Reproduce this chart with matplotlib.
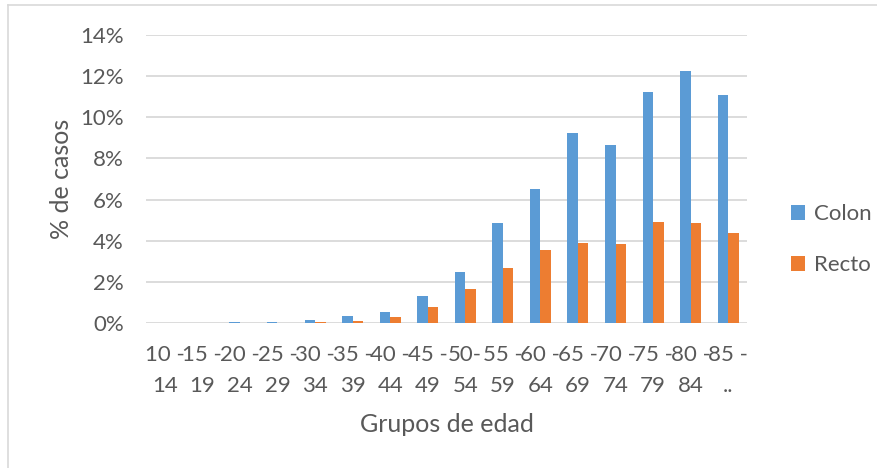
import matplotlib.pyplot as plt
from matplotlib.lines import Line2D
import numpy as np

grupos = ["10 -\n14", "15 -\n19", "20 -\n24", "25 -\n29", "30 -\n34", "35 -\n39",
          "40 -\n44", "45 -\n49", "50-\n54", "55 -\n59", "60 -\n64", "65 -\n69",
          "70 -\n74", "75 -\n79", "80 -\n84", "85 -\n.."]
colon = [0.0, 0.01, 0.03, 0.04, 0.13, 0.33, 0.55, 1.31, 2.46, 4.85, 6.5, 9.22, 8.64, 11.23, 12.25, 11.07]
recto = [0.0, 0.0, 0.01, 0.01, 0.05, 0.11, 0.28, 0.77, 1.67, 2.66, 3.55, 3.9, 3.86, 4.91, 4.88, 4.37]

plt.rcParams['font.family'] = ['Lato', 'DejaVu Sans']
gris = '#595959'

fig = plt.figure(figsize=(8.78, 4.68), dpi=100)
ax = fig.add_axes([146 / 878, 1 - 323 / 468, 601 / 878, 288 / 468])

x = np.arange(len(grupos))
w = 0.28
ax.bar(x - w / 2, colon, w, color='#5B9BD5', label='Colon', zorder=3)
ax.bar(x + w / 2, recto, w, color='#ED7D31', label='Recto', zorder=3)

ax.set_xlim(-0.5, len(grupos) - 0.5)
ax.set_ylim(0, 14)
ax.set_yticks(range(0, 15, 2))
ax.set_yticklabels([f"{v}%" for v in range(0, 15, 2)])
ax.set_xticks(x)
ax.set_xticklabels(grupos, linespacing=1.7)
ax.grid(axis='y', color='#D9D9D9', linewidth=1.3, zorder=0)
for s in ax.spines.values():
    s.set_visible(False)
ax.tick_params(axis='both', length=0, labelsize=16, colors=gris)
ax.tick_params(axis='y', pad=16)
ax.tick_params(axis='x', pad=16)

ax.set_ylabel('% de casos', fontsize=18, color=gris, labelpad=5)
ax.set_xlabel('Grupos de edad', fontsize=18, color=gris, labelpad=12)

ax.legend(loc='center left', bbox_to_anchor=(1.04, 0.29), frameon=False,
          fontsize=16, labelcolor=gris, handlelength=0.65, handleheight=0.65,
          labelspacing=1.4, handletextpad=0.4)

fig.add_artist(Line2D([8 / 878, 8 / 878], [0, 1 - 5 / 468], color='#D9D9D9', linewidth=1.2))
fig.add_artist(Line2D([8 / 878, 1], [1 - 5 / 468, 1 - 5 / 468], color='#D9D9D9', linewidth=1.2))

fig.savefig('out.png', dpi=100)
plt.close(fig)
